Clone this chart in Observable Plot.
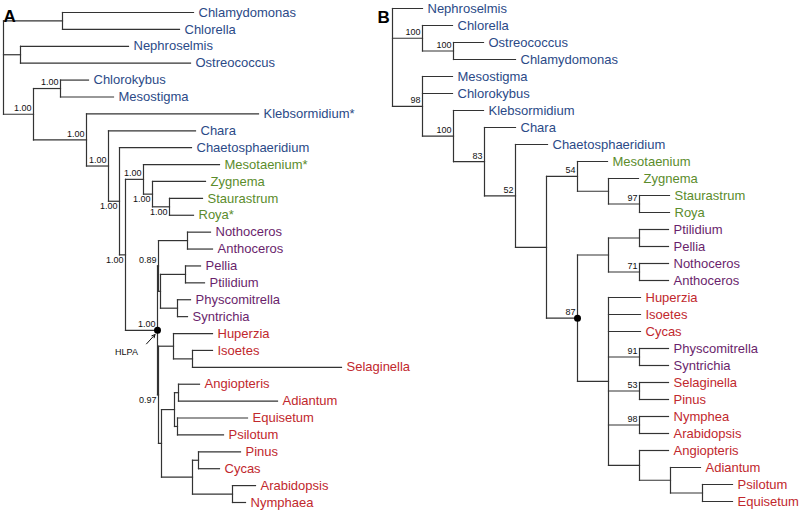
<!DOCTYPE html>
<html>
<head>
<meta charset="utf-8">
<script src="https://cdn.jsdelivr.net/npm/d3@7"></script>
<script src="https://cdn.jsdelivr.net/npm/@observablehq/plot@0.6"></script>
<style>
  html, body { margin: 0; padding: 0; background: #fff; }
  #wrap { position: relative; width: 800px; height: 510px; background: #fff; overflow: hidden; }
  #panelA { position: absolute; left: 0; top: 0; }
  #panelB { position: absolute; left: 375px; top: 0; }
</style>
</head>
<body>
<div id="wrap"><div id="panelA"></div><div id="panelB"></div></div>
<script>
// ---- Data: trees as Newick (branch lengths; internal labels = support) ----
const treeA = "((Chlamydomonas:1.31,Chlorella:1.17):0.59,(Nephroselmis:1.08,Ostreococcus:1.70):0.17,((Chlorokybus:0.28,Mesostigma:0.53)1.00:0.27,(Klebsormidium*:1.72,(Chara:0.87,(Chaetosphaeridium:0.72,((Mesotaenium*:0.76,(Zygnema:0.53,(Staurastrum:0.33,Roya*:0.24)1.00:0.17)1.00:0.09)1.00:0.18,(((Nothoceros:0.23,Anthoceros:0.25):0.29,((Pellia:0.15,Ptilidium:0.19):0.25,(Physcomitrella:0.13,Syntrichia:0.10):0.17):0.02)0.89:0.01,((Huperzia:0.39,(Isoetes:0.20,Selaginella:1.49):0.19):0.15,(((Angiopteris:0.21,Adiantum:0.99):0.04,(Equisetum:0.70,Psilotum:0.46):0.03):0.13,((Pinus:0.42,Cycas:0.21):0.06,(Arabidopsis:0.23,Nymphaea:0.13):0.40):0.31):0.03)0.97:0.01)1.00:0.32)1.00:0.06)1.00:0.11)1.00:0.22)1.00:0.53)1.00:0.30);";

const treeB = "(Nephroselmis:0.30,(Chlorella:0.30,(Ostreococcus:0.30,Chlamydomonas:0.62)100:0.31)100:0.30,(Mesostigma:0.30,Chlorokybus:0.30,(Klebsormidium:0.30,(Chara:0.31,(Chaetosphaeridium:0.32,((Mesotaenium:0.30,(Zygnema:0.30,(Staurastrum:0.30,Roya:0.30)97:0.31):0.31)54:0.31,(((Ptilidium:0.29,Pellia:0.29):0.31,(Nothoceros:0.29,Anthoceros:0.29)71:0.31):0.31,(Huperzia:0.32,Isoetes:0.32,Cycas:0.32,(Physcomitrella:0.29,Syntrichia:0.29)91:0.31,(Selaginella:0.29,Pinus:0.29)53:0.31,(Nymphea:0.29,Arabidopsis:0.29)98:0.31,(Angiopteris:0.29,(Adiantum:0.30,(Psilotum:0.30,Equisetum:0.30):0.32):0.31):0.31):0.31)87:0.31):0.31)52:0.31)83:0.31)100:0.31)98:0.30);";

// taxon groups (leaf label colours)
const algaeTaxa = ["Chlamydomonas","Chlorella","Nephroselmis","Ostreococcus","Chlorokybus","Mesostigma","Klebsormidium","Chara","Chaetosphaeridium"];
const zygnematalesTaxa = ["Mesotaenium","Zygnema","Staurastrum","Roya"];
const bryophyteTaxa = ["Nothoceros","Anthoceros","Pellia","Ptilidium","Physcomitrella","Syntrichia"];
const tracheophyteTaxa = ["Huperzia","Isoetes","Selaginella","Angiopteris","Adiantum","Equisetum","Psilotum","Pinus","Cycas","Arabidopsis","Nymphaea","Nymphea"];
const groupNames = ["algae","zygnematales","bryophytes","tracheophytes"];

// clades (first leaf | last leaf) whose support label sits below the branch in panel A
const supportBelowA = ["Chaetosphaeridium|Nymphaea","Mesotaenium*|Nymphaea","Zygnema|Roya*","Staurastrum|Roya*","Huperzia|Nymphaea"];
// clade marked with a dot (HLPA)
const dotCladeA = "Nothoceros|Nymphaea";
const dotCladeB = "Ptilidium|Equisetum";
const hlpaLabel = "HLPA";

// ---- Helpers ----
function parseNewick(s) {
  let i = 0;
  function node() {
    const n = {children: [], name: "", length: 0};
    if (s[i] === "(") {
      i++;
      do { n.children.push(node()); } while (s[i++] === ",");
    }
    let start = i;
    while (i < s.length && !",():;".includes(s[i])) i++;
    n.name = s.slice(start, i);
    if (s[i] === ":") {
      i++; start = i;
      while (i < s.length && !",();".includes(s[i])) i++;
      n.length = +s.slice(start, i);
    }
    return n;
  }
  return node();
}

function layout(newick) {
  const root = parseNewick(newick);
  const nodes = [];
  let leafIndex = 0;
  (function walk(n, parent) {
    n.parent = parent;
    n.x = parent ? parent.x + n.length : 0;
    nodes.push(n);
    if (n.children.length) {
      n.children.forEach(c => walk(c, n));
      const f = n.children[0], l = n.children[n.children.length - 1];
      n.y = (f.y + l.y) / 2;
      n.first = f.first; n.last = l.last;
    } else {
      n.y = leafIndex++;
      n.first = n.last = n.name;
    }
    n.key = n.first + "|" + n.last;
  })(root, null);
  return nodes;
}

function groupOf(name) {
  const t = name.replace("*", "");
  if (algaeTaxa.includes(t)) return "algae";
  if (zygnematalesTaxa.includes(t)) return "zygnematales";
  if (bryophyteTaxa.includes(t)) return "bryophytes";
  return "tracheophytes";
}

const FONT = "'Liberation Sans', Arial, Helvetica, sans-serif";
const LINE = "#333";

function drawTree(newick, cfg) {
  const nodes = layout(newick);
  const leaves = nodes.filter(d => !d.children.length);
  const internal = nodes.filter(d => d.children.length);
  const labelled = internal.filter(d => d.name);
  const below = labelled.filter(d => cfg.below.includes(d.key));
  const above = labelled.filter(d => !cfg.below.includes(d.key));
  const dotNode = internal.filter(d => d.key === cfg.dot);
  const marks = [
    Plot.link(nodes.filter(d => d.parent), {
      x1: d => d.parent.x, x2: "x", y1: "y", y2: "y",
      stroke: LINE, strokeWidth: 1.2, strokeLinecap: "square"
    }),
    Plot.link(internal, {
      x1: "x", x2: "x", y1: d => d.children[0].y, y2: d => d.children[d.children.length - 1].y,
      stroke: LINE, strokeWidth: 1.2, strokeLinecap: "square"
    }),
    Plot.text(leaves, {
      x: "x", y: "y", text: "name", fill: d => groupOf(d.name),
      textAnchor: "start", dx: 5, fontSize: 13
    }),
    Plot.text(above, {x: "x", y: "y", text: "name", textAnchor: "end", dx: -2, dy: -6, fontSize: 9, fill: "#111"}),
    Plot.text(below, {x: "x", y: "y", text: "name", textAnchor: "end", dx: -2, dy: 5, fontSize: 9, fill: "#111"}),
    Plot.dot(dotNode, {x: "x", y: "y", r: 3.5, fill: "#000", stroke: null}),
    Plot.text([cfg.panel], {frameAnchor: "top-left", textAnchor: "start", dx: cfg.panelDx, dy: cfg.panelDy,
      fontSize: 17, fontWeight: "bold", fill: "#000"})
  ];
  if (cfg.hlpa) {
    marks.push(
      Plot.text(dotNode, {x: "x", y: "y", text: () => hlpaLabel, textAnchor: "middle", dx: -31, dy: 22, fontSize: 9, fill: "#111"}),
      Plot.arrow(dotNode, {
        x1: d => d.x - 0.11, y1: d => d.y + 0.8,
        x2: d => d.x - 0.025, y2: d => d.y + 0.25,
        stroke: "#111", strokeWidth: 1, headLength: 5, headAngle: 55
      })
    );
  }
  return Plot.plot({
    width: cfg.width, height: 510,
    marginLeft: cfg.marginLeft, marginRight: 0,
    marginTop: cfg.marginTop, marginBottom: cfg.marginBottom,
    x: {domain: [0, (cfg.width - cfg.marginLeft) / 100], axis: null},
    y: {domain: [0, 29], reverse: true, axis: null},
    color: {domain: groupNames, range: ["#2b4a87", "#5b8c2c", "#6a1f6c", "#c1282d"]},
    style: {fontFamily: FONT, background: "transparent", overflow: "visible"},
    marks
  });
}

document.getElementById("panelA").append(drawTree(treeA, {
  width: 400, marginLeft: 3, marginTop: 12, marginBottom: 8,
  below: supportBelowA, dot: dotCladeA, panel: "A", panelDx: 0, panelDy: -3, hlpa: true
}));
document.getElementById("panelB").append(drawTree(treeB, {
  width: 425, marginLeft: 17, marginTop: 8, marginBottom: 9,
  below: [], dot: dotCladeB, panel: "B", panelDx: -15, panelDy: 2, hlpa: false
}));
</script>
</body>
</html>
